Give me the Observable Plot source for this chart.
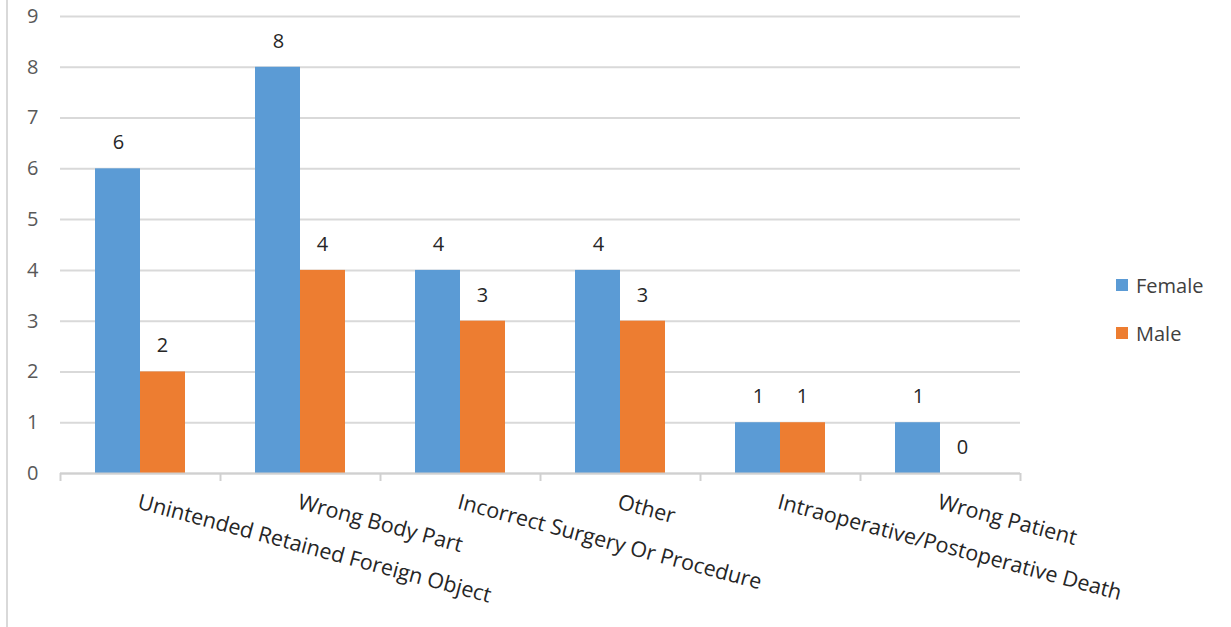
<!DOCTYPE html>
<html>
<head>
<meta charset="utf-8">
<script src="https://cdn.jsdelivr.net/npm/d3@7"></script>
<script src="https://cdn.jsdelivr.net/npm/@observablehq/plot@0.6"></script>
<style>
  html, body { margin: 0; padding: 0; background: #fff; }
  #wrap { position: relative; width: 1231px; height: 627px; overflow: hidden; font-family: "Open Sans", sans-serif; }
  #border { position: absolute; left: 6px; top: 0; width: 2px; height: 627px; background: #d9d9d9; }
  #legend { position: absolute; left: 1116px; top: 270px; color: #404040; font-size: 20px; }
  .item { display: flex; align-items: center; height: 30px; margin-bottom: 18px; }
  .sw { width: 12px; height: 12px; margin-right: 8px; }
</style>
</head>
<body>
<div id="wrap"><div id="border"></div><div id="chart"></div><div id="legend"></div></div>
<script>
const categories = [
  "Unintended Retained Foreign Object",
  "Wrong Body Part",
  "Incorrect Surgery Or Procedure",
  "Other",
  "Intraoperative/Postoperative Death",
  "Wrong Patient"
];
const series = ["Female", "Male"];
const female = [6, 8, 4, 4, 1, 1];
const male = [2, 4, 3, 3, 1, 0];
const yTicks = [0, 1, 2, 3, 4, 5, 6, 7, 8, 9];
const colors = ["#5b9bd5", "#ed7d31"];

const fRows = categories.map((c, i) => ({category: c, sex: "Female", value: female[i]}));
const mRows = categories.map((c, i) => ({category: c, sex: "Male", value: male[i]}));

const labelFont = {fontSize: 20, fill: "#262626"};

const chart = Plot.plot({
  width: 1231,
  height: 627,
  marginLeft: 60,
  marginRight: 211,
  marginTop: 16,
  marginBottom: 154,
  style: {fontFamily: "'Open Sans', sans-serif", background: "transparent"},
  x: {domain: categories, padding: 0, axis: null, label: null},
  y: {domain: [0, 9], axis: null, label: null},
  marks: [
    Plot.gridY(yTicks, {stroke: "#d9d9d9", strokeOpacity: 1, strokeWidth: 2}),
    Plot.axisY({ticks: yTicks, tickSize: 0, tickPadding: 22, fontSize: 20, fill: "#595959", label: null}),
    Plot.barY(fRows, {x: "category", y: "value", fill: colors[0], insetLeft: 35, insetRight: 80}),
    Plot.barY(mRows, {x: "category", y: "value", fill: colors[1], insetLeft: 80, insetRight: 35}),
    Plot.ruleY([0], {stroke: "#d0d0d0", strokeWidth: 2}),
    Plot.axisX({ticks: categories, tickSize: 8, dx: -80, tickFormat: () => "", stroke: "#d0d0d0", strokeWidth: 2, label: null}),
    Plot.axisX({ticks: [categories[categories.length - 1]], tickSize: 8, dx: 80, tickFormat: () => "", stroke: "#d0d0d0", strokeWidth: 2, label: null}),
    Plot.text(fRows, {x: "category", y: "value", text: d => String(d.value), dx: -22, dy: -26, ...labelFont}),
    Plot.text(mRows, {x: "category", y: "value", text: d => String(d.value), dx: 22, dy: -26, ...labelFont}),
    Plot.text(categories, {x: d => d, frameAnchor: "bottom", text: d => d, dy: 20, rotate: 15, textAnchor: "start", lineAnchor: "top", fontSize: 21.5, fill: "#262626"})
  ]
});
document.getElementById("chart").appendChild(chart);

const legend = document.getElementById("legend");
series.forEach((s, i) => {
  const item = document.createElement("div");
  item.className = "item";
  item.innerHTML = `<div class="sw" style="background:${colors[i]}"></div><span>${s}</span>`;
  legend.appendChild(item);
});
</script>
</body>
</html>
